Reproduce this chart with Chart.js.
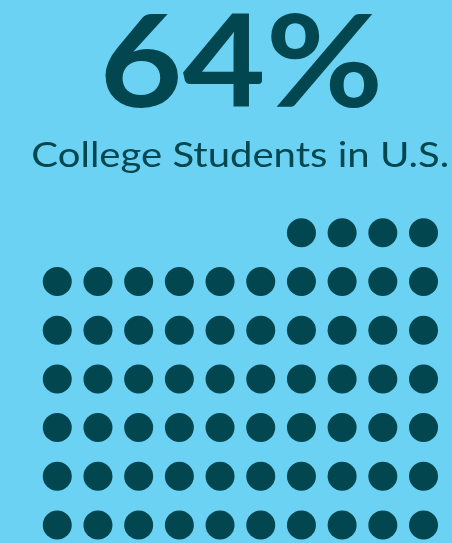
<!DOCTYPE html>
<html>
<head>
<meta charset="utf-8">
<title>College Students in U.S.</title>
<script src="https://cdn.jsdelivr.net/npm/chart.js@4/dist/chart.umd.min.js"></script>
<style>
  html, body { margin: 0; padding: 0; background: #6cd2f4; overflow: hidden; }
  canvas { display: block; }
</style>
</head>
<body>
<canvas id="waffleChart" width="452" height="543"></canvas>
<script>
// Data
const percentValue = 64;
const headline = percentValue + '%';
const caption = 'College Students in U.S.';
const gridColumns = 10;

// Colours
const bgColor = '#6cd2f4';
const inkColor = '#02464f';

// One dot per percent, ten per row, partial row sits on top, right aligned
function buildDots(value, cols) {
    const fullRows = Math.floor(value / cols);
    const rest = value % cols;
    const dots = [];
    let row = 0;
    if (rest > 0) {
        for (let c = cols - rest; c < cols; c++) dots.push({ x: c, y: row });
        row++;
    }
    for (let r = 0; r < fullRows; r++) {
        for (let c = 0; c < cols; c++) dots.push({ x: c, y: row });
        row++;
    }
    return dots;
}

// Draws text so its cap height and width fit a box
function fitText(ctx, text, weight, family, left, baseline, capHeight, width, probe) {
    ctx.font = weight + ' 100px ' + family;
    const ascent = ctx.measureText(probe).actualBoundingBoxAscent || 72;
    const size = capHeight * 100 / ascent;
    ctx.font = weight + ' ' + size + 'px ' + family;
    ctx.textAlign = 'left';
    ctx.textBaseline = 'alphabetic';
    const m = ctx.measureText(text);
    const w = m.actualBoundingBoxLeft + m.actualBoundingBoxRight;
    const sx = width / w;
    ctx.save();
    ctx.translate(left, baseline);
    ctx.scale(sx, 1);
    ctx.fillText(text, m.actualBoundingBoxLeft, 0);
    ctx.restore();
}

const headerText = {
    id: 'headerText',
    beforeDraw(chart) {
        const ctx = chart.ctx;
        ctx.save();
        ctx.fillStyle = bgColor;
        ctx.fillRect(0, 0, chart.width, chart.height);
        ctx.fillStyle = inkColor;
        fitText(ctx, headline, '700', 'Lato, "Open Sans", sans-serif', 105, 107, 92, 273, '4');
        fitText(ctx, caption, '400', 'Lato, "Open Sans", sans-serif', 32.5, 166.7, 25, 415.5, 'H');
        ctx.restore();
    }
};

const ctx = document.getElementById('waffleChart').getContext('2d');
new Chart(ctx, {
    type: 'scatter',
    data: {
        datasets: [{
            label: 'Share',
            data: buildDots(percentValue, gridColumns),
            backgroundColor: inkColor,
            borderWidth: 0,
            pointRadius: 14.5,
            pointHoverRadius: 14.5,
            clip: false
        }]
    },
    options: {
        responsive: false,
        animation: false,
        layout: { autoPadding: false, padding: { top: 200, left: 30, right: 0, bottom: 0 } },
        plugins: {
            legend: { display: false },
            tooltip: { enabled: false }
        },
        scales: {
            x: { type: 'linear', display: false, min: -0.67, max: 9.7 },
            y: { type: 'linear', display: false, reverse: true, min: -0.673, max: 6.37 }
        }
    },
    plugins: [headerText]
});
</script>
</body>
</html>
